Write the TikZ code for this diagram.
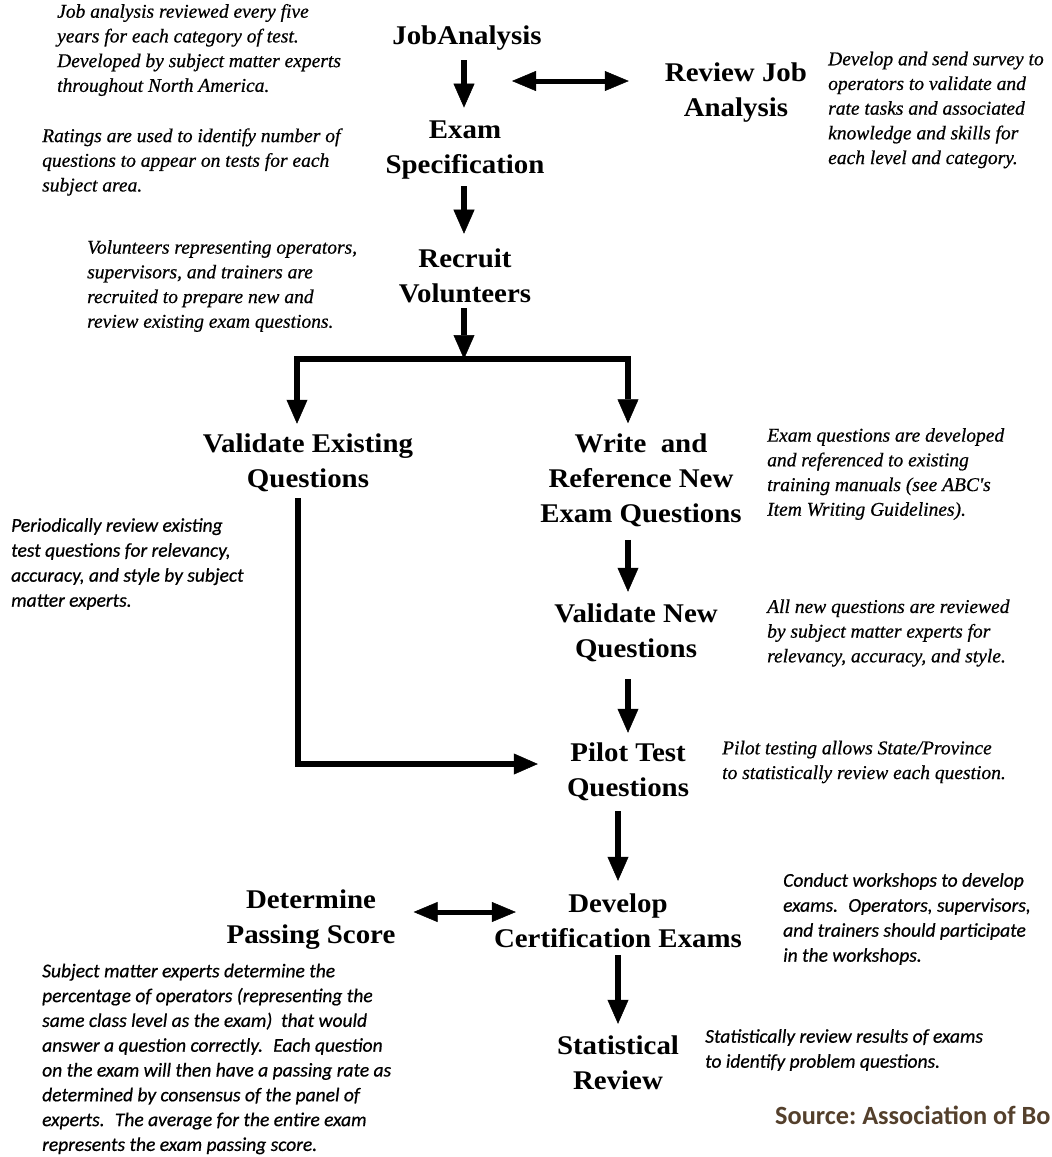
\documentclass[tikz,border=0pt]{standalone}
\usepackage{fontspec}
\setmainfont{Liberation Serif}
\newfontfamily\titlefont{Liberation Serif}[FakeStretch=1.07]
\newfontfamily\notefont{Liberation Serif}[FakeBold=0.6]
\newfontfamily\calnote{Carlito}[FakeBold=0.6]
\newfontfamily\srcfont{Carlito}
\usetikzlibrary{arrows.meta}
\definecolor{srcbrown}{RGB}{84,64,44}

\tikzset{
  stage/.style={font=\titlefont\bfseries\fontsize{27}{35}\selectfont, align=center, inner sep=0pt},
  note/.style={font=\notefont\itshape\fontsize{19.5}{24.7}\selectfont, align=left, anchor=west, inner sep=0pt},
  cnote/.style={note, font=\calnote\itshape\fontsize{19.5}{25}\selectfont},
  flow/.style={line width=6pt, -{Triangle[length=24pt,width=21pt,line width=0.5pt]}},
  link/.style={line width=5pt, {Triangle[length=24pt,width=20pt,line width=0.5pt]}-{Triangle[length=24pt,width=20pt,line width=0.5pt]}},
}

\begin{document}
\begin{tikzpicture}[x=1pt,y=-1pt]
\path[use as bounding box, fill=white] (0,0) rectangle (1052,1157);

% process stages
\node[stage] (ja)  at (467,38)   {JobAnalysis};
\node[stage] (rja) at (736,93)   {Review Job\\Analysis};
\node[stage] (es)  at (465,150)  {Exam\\Specification};
\node[stage] (rv)  at (465,276)  {Recruit\\Volunteers};
\node[stage] (ve)  at (308,463)  {Validate Existing\\Questions};
\node[stage] (wr)  at (641,480)  {Write~ and\\Reference New\\Exam Questions};
\node[stage] (vn)  at (636,633)  {Validate New\\Questions};
\node[stage] (pt)  at (628,772)  {Pilot Test\\Questions};
\node[stage] (dc)  at (618,921)  {Develop\\Certification Exams};
\node[stage] (dp)  at (311,920)  {Determine\\Passing Score};
\node[stage] (sr)  at (618,1063) {Statistical\\Review};

% explanatory notes
\node[note] (n1) at (57,50) {Job analysis reviewed every five\\years for each category of test.\\Developed by subject matter experts\\throughout North America.};
\node[note] (n2) at (42,162) {Ratings are used to identify number of\\questions to appear on tests for each\\subject area.};
\node[note] (n3) at (828,110) {Develop and send survey to\\operators to validate and\\rate tasks and associated\\knowledge and skills for\\each level and category.};
\node[note] (n4) at (87,286) {Volunteers representing operators,\\supervisors, and trainers are\\recruited to prepare new and\\review existing exam questions.};
\node[note] (n5) at (767,474) {Exam questions are developed\\and referenced to existing\\training manuals (see ABC's\\Item Writing Guidelines).};
\node[cnote] (n6) at (11,564) {Periodically review existing\\test questions for relevancy,\\accuracy, and style by subject\\matter experts.};
\node[note] (n7) at (767,633) {All new questions are reviewed\\by subject matter experts for\\relevancy, accuracy, and style.};
\node[note] (n8) at (722,762) {Pilot testing allows State/Province\\to statistically review each question.};
\node[cnote] (n9) at (783,919) {Conduct workshops to develop\\exams.~ Operators, supervisors,\\and trainers should participate\\in the workshops.};
\node[cnote] (n10) at (705,1050) {Statistically review results of exams\\to identify problem questions.};
\node[cnote, font=\calnote\itshape\fontsize{19.5}{24.8}\selectfont] (n11) at (42,1059) {Subject matter experts determine the\\percentage of operators (representing the\\same class level as the exam)~ that would\\answer a question correctly.~ Each question\\on the exam will then have a passing rate as\\determined by consensus of the panel of\\experts.~ The average for the entire exam\\represents the exam passing score.};

\node[anchor=base west, inner sep=0pt, text=srcbrown, font=\srcfont\bfseries\fontsize{26.3}{30}\selectfont] (src) at (775,1124) {Source:\ Association of Bo};

% connector columns and rows
\coordinate (cA) at (464,0);
\coordinate (cL) at (297,0);
\coordinate (cR) at (628,0);
\coordinate (cD) at (618,0);
\coordinate (cE) at (298,0);
\coordinate (rTop) at (0,81);
\coordinate (rDP) at (0,912);
\coordinate (jaLink) at (512,81);
\coordinate (split) at (464,359);

% connectors
\draw[flow, shorten <=10pt, shorten >=13pt] (ja.south -| cA) -- (es.north -| cA);
\draw[link, shorten >=36pt] (jaLink) -- (rja.west |- rTop);
\draw[flow, shorten <=7pt, shorten >=15pt] (es.south -| cA) -- (rv.north -| cA);
\draw[flow, shorten <=5pt] (rv.south -| cA) -- (split);
\draw[flow, shorten >=10pt] (split) -| (ve.north -| cL);
\draw[flow, shorten >=10pt] (split) -| (wr.north -| cR);
\draw[flow, shorten <=13pt, shorten >=12pt] (wr.south -| cR) -- (vn.north -| cR);
\draw[flow, shorten <=17pt, shorten >=10pt] (vn.south -| cR) -- (pt.north -| cR);
\draw[flow, shorten <=6pt, shorten >=29pt] (ve.south -| cE) |- ([yshift=8pt]pt.west);
\draw[flow, shorten <=10pt, shorten >=13pt] (pt.south -| cD) -- (dc.north -| cD);
\draw[link, shorten <=18pt, shorten >=-22pt] (dp.east |- rDP) -- (dc.west |- rDP);
\draw[flow, shorten <=7pt, shorten >=12pt] (dc.south -| cD) -- (sr.north -| cD);
\end{tikzpicture}
\end{document}
